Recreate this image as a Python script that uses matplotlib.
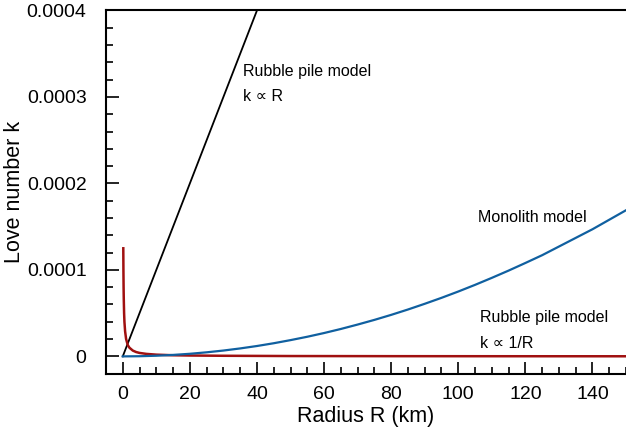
import numpy as np
import matplotlib
matplotlib.use('Agg')
import matplotlib.pyplot as plt
from matplotlib.ticker import MultipleLocator, FixedLocator, FixedFormatter

# 読み取った値
# 瓦礫モデル k ∝ R
R_rubble_lin = [0, 40]
k_rubble_lin = [0, 0.0004]

# モノリスモデル
R_mono = [0, 5, 10, 15, 20, 25, 30, 35, 40, 45, 50, 55, 60, 65, 70, 75, 80,
          85, 90, 95, 100, 105, 110, 115, 120, 125, 130, 135, 140, 145, 150]
k_mono = [0, 0.19e-6, 0.75e-6, 1.7e-6, 3.0e-6, 4.7e-6, 6.75e-6, 9.2e-6, 1.2e-5,
          1.52e-5, 1.88e-5, 2.27e-5, 2.7e-5, 3.17e-5, 3.68e-5, 4.22e-5, 4.8e-5,
          5.42e-5, 6.08e-5, 6.77e-5, 7.5e-5, 8.27e-5, 9.08e-5, 9.92e-5, 1.08e-4,
          1.17e-4, 1.27e-4, 1.37e-4, 1.47e-4, 1.58e-4, 1.69e-4]

# 瓦礫モデル k ∝ 1/R
R_rubble_inv = [0.16, 0.2, 0.25, 0.3, 0.4, 0.5, 0.7, 1.0, 1.5, 2, 3, 4, 5, 7,
                10, 15, 20, 30, 50, 80, 120, 150]
k_rubble_inv = [1.25e-4, 1.0e-4, 8.0e-5, 6.7e-5, 5.0e-5, 4.0e-5, 2.9e-5, 2.0e-5,
                1.3e-5, 1.0e-5, 6.7e-6, 5.0e-6, 4.0e-6, 2.9e-6, 2.0e-6, 1.3e-6,
                1.0e-6, 0.7e-6, 0.4e-6, 0.25e-6, 0.17e-6, 0.13e-6]

yticks = [0, 0.0001, 0.0002, 0.0003, 0.0004]
yticklabels = ['0', '0.0001', '0.0002', '0.0003', '0.0004']
xticks = [0, 20, 40, 60, 80, 100, 120, 140]

plt.rcParams['font.family'] = ['Liberation Sans', 'DejaVu Sans']

fig = plt.figure(figsize=(6.26, 4.37), dpi=100)
ax = fig.add_axes([0.1693, 0.1449, 0.8307, 0.8311])

ax.plot(R_rubble_lin, k_rubble_lin, color='black', linewidth=1.3)
ax.plot(R_rubble_inv, k_rubble_inv, color='#a01010', linewidth=1.8)
ax.plot(R_mono, k_mono, color='#1060a0', linewidth=1.6)

ax.set_xlim(-5, 150)
ax.set_ylim(-0.00002, 0.0004)

ax.xaxis.set_major_locator(FixedLocator(xticks))
ax.xaxis.set_minor_locator(MultipleLocator(5))
ax.yaxis.set_major_locator(FixedLocator(yticks))
ax.yaxis.set_major_formatter(FixedFormatter(yticklabels))
ax.yaxis.set_minor_locator(MultipleLocator(0.00002))

ax.tick_params(which='both', direction='in', labelsize=14, width=1.2)
ax.tick_params(which='major', length=9)
ax.tick_params(which='minor', length=5)
ax.tick_params(axis='x', pad=9)
ax.tick_params(axis='y', pad=14)

ax.spines['right'].set_visible(False)
for s in ['left', 'bottom', 'top']:
    ax.spines[s].set_linewidth(1.5)

ax.set_xlabel('Radius R (km)', fontsize=15.5, labelpad=2)
ax.set_ylabel('Love number k', fontsize=15.5, labelpad=1)

ax.text(35.7, 0.00033, 'Rubble pile model', fontsize=11.5, va='center')
ax.text(35.7, 0.000301, 'k \u221d R', fontsize=11.5, va='center')
ax.text(105.9, 0.000161, 'Monolith model', fontsize=11.5, va='center')
ax.text(106.4, 0.0000455, 'Rubble pile model', fontsize=11.5, va='center')
ax.text(106.4, 0.0000154, 'k \u221d 1/R', fontsize=11.5, va='center')

fig.savefig('out.png', dpi=100)
